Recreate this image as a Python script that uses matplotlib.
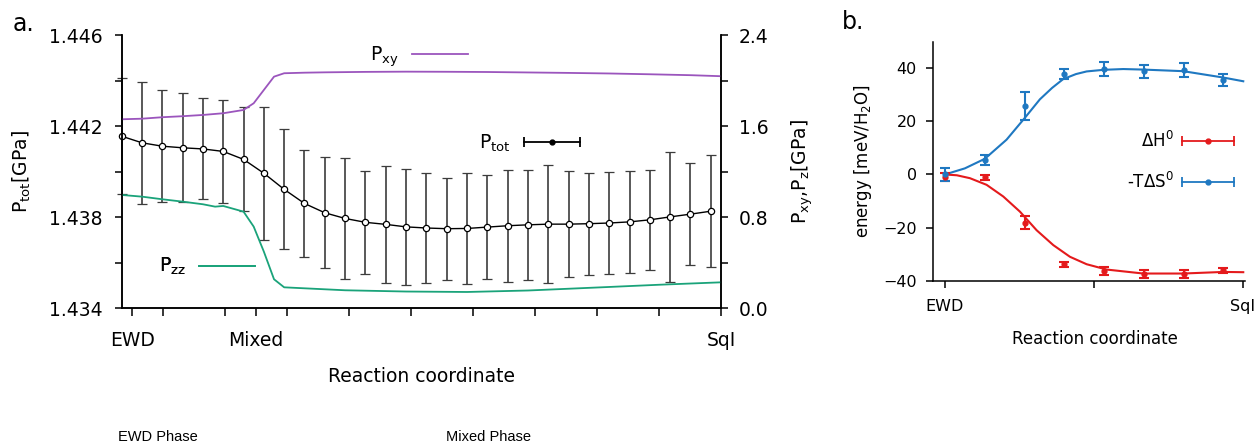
import matplotlib
matplotlib.use('Agg')
import matplotlib.pyplot as plt
from matplotlib.lines import Line2D
from matplotlib.legend_handler import HandlerLine2D
from matplotlib.ticker import MultipleLocator

plt.rcParams['font.family'] = 'DejaVu Sans'
plt.rcParams['mathtext.default'] = 'regular'

# ---- panel a: pressure along the reaction coordinate ----
pts_x = list(range(30))
ptot = [1.44156, 1.44127, 1.44112, 1.44105, 1.44100, 1.44089, 1.44054, 1.43993, 1.43922, 1.43860,
        1.43819, 1.43794, 1.43777, 1.43768, 1.43757, 1.43752, 1.43749, 1.43750, 1.43756, 1.43762,
        1.43766, 1.43769, 1.43769, 1.43771, 1.43774, 1.43779, 1.43788, 1.43801, 1.43813, 1.43826]
ptot_err = [0.00255, 0.00269, 0.00246, 0.00239, 0.00222, 0.00226, 0.00229, 0.00292, 0.00264, 0.00236,
            0.00245, 0.00268, 0.00227, 0.00258, 0.00254, 0.00243, 0.00225, 0.00243, 0.00229, 0.00247,
            0.00241, 0.00260, 0.00232, 0.00225, 0.00223, 0.00225, 0.00219, 0.00286, 0.00223, 0.00247]

pxy_x = [0, 1, 2, 3, 4, 5, 6, 6.5, 7.5, 8, 9, 10, 12, 14, 16, 18, 20, 22, 24, 26, 28, 29.5]
pxy = [1.661, 1.666, 1.679, 1.688, 1.699, 1.714, 1.743, 1.802, 2.036, 2.066, 2.071, 2.074,
       2.078, 2.080, 2.079, 2.077, 2.073, 2.069, 2.064, 2.057, 2.049, 2.040]

pzz_x = [0, 1, 2, 3, 4, 4.6, 5, 6, 6.5, 7, 7.5, 8, 11, 14, 17, 20, 23.6, 26.5, 29.5]
pzz = [0.995, 0.980, 0.957, 0.936, 0.913, 0.892, 0.898, 0.848, 0.716, 0.496, 0.253, 0.182,
       0.156, 0.145, 0.141, 0.154, 0.182, 0.205, 0.226]

a_tick_pos = [0.52, 2.05, 5.09, 6.62, 8.15, 11.19, 14.24, 17.3, 20.35, 23.4, 26.45, 29.5]
a_tick_lbl = ['EWD', '', '', 'Mixed', '', '', '', '', '', '', '', 'SqI']

# ---- panel b: thermodynamic decomposition ----
rc_pts = [0, 0.134, 0.269, 0.400, 0.534, 0.669, 0.803, 0.935]
dH = [-0.8, -1.0, -18.1, -33.8, -36.3, -37.6, -37.4, -36.1]
dH_err = [1.5, 0.95, 2.6, 0.9, 1.4, 1.5, 1.6, 0.95]
TdS = [0.0, 5.3, 25.8, 38.0, 39.7, 38.9, 39.3, 35.6]
TdS_err = [2.4, 1.9, 5.3, 1.9, 2.8, 2.5, 2.5, 2.2]

dH_fit_x = [0, 0.04, 0.084, 0.14, 0.196, 0.252, 0.308, 0.364, 0.42, 0.476, 0.543, 0.666, 0.8, 0.935, 1.002]
dH_fit = [0, -0.3, -1.4, -3.9, -8.3, -14.0, -21.0, -26.6, -31.0, -33.8, -35.8, -37.3, -37.3, -36.7, -36.8]
TdS_fit_x = [0, 0.067, 0.134, 0.207, 0.269, 0.319, 0.36, 0.397, 0.44, 0.476, 0.532, 0.599, 0.666, 0.8, 0.935, 1.002]
TdS_fit = [0, 2.3, 5.9, 13.1, 21.4, 28.3, 32.6, 35.9, 37.8, 38.8, 39.4, 39.7, 39.5, 38.9, 36.5, 35.1]

b_tick_pos = [0, 0.5, 1.0]
b_tick_lbl = ['EWD', '', 'SqI']

purple = '#9b55bd'
green = '#1aa37a'
red = '#e41a1c'
blue = '#1f78c1'


def errkey(color):
    # gnuplot style key: horizontal bar with end caps and a dot in the middle
    bars = Line2D([], [], color=color, lw=1.3, marker='|', markersize=7, mew=1.3)
    dot = Line2D([], [], color=color, lw=0, marker='o', markersize=3.5)
    hmap = {bars: HandlerLine2D(numpoints=2, marker_pad=0), dot: HandlerLine2D(numpoints=1)}
    return (bars, dot), hmap


def add_key(axis, handle, label, x, y, hmap=None, fs=13.5):
    leg = axis.legend([handle], [label], loc='center right', bbox_to_anchor=(x, y),
                      markerfirst=False, frameon=False, borderpad=0, borderaxespad=0,
                      handlelength=3.0, handletextpad=0.7, fontsize=fs, handler_map=hmap)
    axis.add_artist(leg)


fig = plt.figure(figsize=(12.58, 4.44), dpi=100)

ax = fig.add_axes([0.0967, 0.3063, 0.4764, 0.6142])
ax2 = ax.twinx()

eb = ax.errorbar(pts_x, ptot, yerr=ptot_err, color='black', lw=1.0, ecolor='#3c3c3c',
                 elinewidth=1.2, capsize=3.6, capthick=1.2, marker='o', ms=4.5,
                 mfc='white', mec='black', mew=0.9)
for art in eb.lines[0:1] + tuple(eb.lines[1]) + tuple(eb.lines[2]):
    art.set_clip_on(False)

l_xy, = ax2.plot(pxy_x, pxy, color=purple, lw=1.3)
l_zz, = ax2.plot(pzz_x, pzz, color=green, lw=1.3)

ax.set_xlim(0, 29.5)
ax.set_ylim(1.434, 1.446)
ax2.set_ylim(0, 2.4)
ax.set_xticks(a_tick_pos)
ax.set_xticklabels(a_tick_lbl)
ax.set_yticks([1.434, 1.438, 1.442, 1.446])
ax.set_yticklabels(['1.434', '1.438', '1.442', '1.446'])
ax.yaxis.set_minor_locator(MultipleLocator(0.002))
ax2.set_yticks([0, 0.8, 1.6, 2.4])
ax2.set_yticklabels(['0.0', '0.8', '1.6', '2.4'])
ax2.yaxis.set_minor_locator(MultipleLocator(0.4))

for a in (ax, ax2):
    a.spines['top'].set_visible(False)
    for s in a.spines.values():
        s.set_linewidth(1.1)
ax.tick_params(axis='y', which='both', direction='out', length=5, width=1.1, labelsize=13.5, pad=9)
ax.tick_params(axis='x', which='both', direction='out', length=5.5, width=1.1, labelsize=13.5, pad=11)
ax2.tick_params(axis='y', which='both', direction='out', length=5, width=1.1, labelsize=13.5, pad=8)

ax.set_xlabel('Reaction coordinate', fontsize=13.5)
ax.xaxis.set_label_coords(0.5, -0.216)
ax.set_ylabel('P$_{tot}$[GPa]', fontsize=13.5)
ax.yaxis.set_label_coords(-0.148, 0.5)
ax2.set_ylabel('P$_{xy}$,P$_{z}$[GPa]', fontsize=13.5, rotation=90)
ax2.yaxis.set_label_coords(1.115, 0.5)

tot_key, tot_map = errkey('black')
add_key(ax2, l_xy, 'P$_{xy}$', 0.5778, 0.923)
add_key(ax2, tot_key, 'P$_{tot}$', 0.7648, 0.604, tot_map)
add_key(ax2, l_zz, 'P$_{zz}$', 0.2224, 0.1514)

# ---- panel b ----
bx = fig.add_axes([0.7419, 0.3678, 0.2478, 0.5383])
bx.plot(dH_fit_x, dH_fit, color=red, lw=1.5)
bx.plot(TdS_fit_x, TdS_fit, color=blue, lw=1.5)
bx.errorbar(rc_pts, dH, yerr=dH_err, color=red, lw=0, elinewidth=1.5, capsize=3.6,
            capthick=1.5, marker='o', ms=3.5)
bx.errorbar(rc_pts, TdS, yerr=TdS_err, color=blue, lw=0, elinewidth=1.5, capsize=3.6,
            capthick=1.5, marker='o', ms=3.5)

bx.set_xlim(-0.039, 1.008)
bx.set_ylim(-40, 50)
bx.set_yticks([-40, -20, 0, 20, 40])
bx.set_xticks(b_tick_pos)
bx.set_xticklabels(b_tick_lbl)
bx.spines['top'].set_visible(False)
bx.spines['right'].set_visible(False)
for s in bx.spines.values():
    s.set_linewidth(1.1)
bx.tick_params(axis='y', direction='out', length=5, width=1.1, labelsize=11.5, pad=7)
bx.tick_params(axis='x', direction='out', length=5, width=1.1, labelsize=11.5, pad=8.5)
bx.set_xlabel('Reaction coordinate', fontsize=12)
bx.xaxis.set_label_coords(0.519, -0.206)
bx.set_ylabel('energy [meV/H$_2$O]', fontsize=12)
bx.yaxis.set_label_coords(-0.19, 0.5)

red_key, red_map = errkey(red)
blue_key, blue_map = errkey(blue)
leg = bx.legend([red_key, blue_key], ['ΔH$^0$', '-TΔS$^0$'], loc='center right',
                bbox_to_anchor=(0.9647, 0.498), markerfirst=False, frameon=False,
                borderpad=0, borderaxespad=0, handlelength=3.1, handletextpad=0.5,
                labelspacing=1.25, fontsize=12, handler_map={**red_map, **blue_map})

fig.text(23 / 1258, 1 - 24 / 444, 'a.', fontsize=17, ha='center', va='center')
fig.text(853 / 1258, 1 - 22 / 444, 'b.', fontsize=17, ha='center', va='center')
fig.text(118 / 1258, 1 - 437 / 444, 'EWD Phase', fontsize=10.5, family='Liberation Sans', va='center')
fig.text(446 / 1258, 1 - 437 / 444, 'Mixed Phase', fontsize=10.5, family='Liberation Sans', va='center')

fig.savefig('out.png', dpi=100)
